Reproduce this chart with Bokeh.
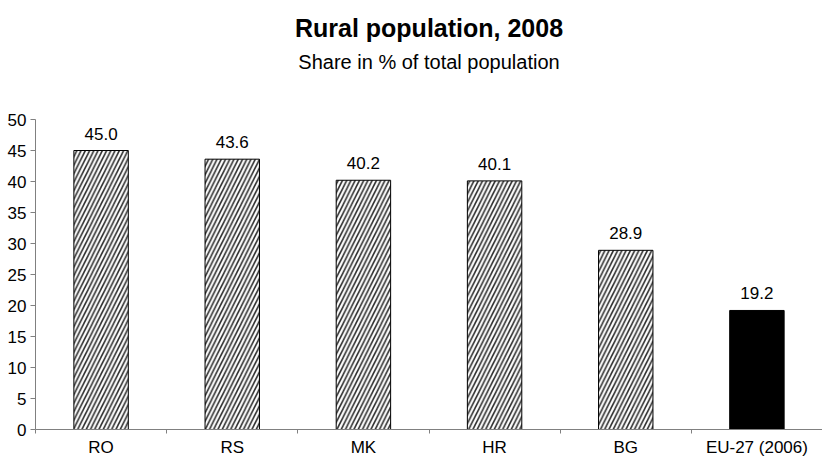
from bokeh.plotting import figure
from bokeh.models import Range1d, FixedTicker, Title, ColumnDataSource
from bokeh.embed import file_html
from bokeh.resources import INLINE

categories = ["RO", "RS", "MK", "HR", "BG", "EU-27 (2006)"]
values = [45.0, 43.6, 40.2, 40.1, 28.9, 19.2]
is_reference = [False, False, False, False, False, True]
y_ticks = [0, 5, 10, 15, 20, 25, 30, 35, 40, 45, 50]

FONT = "Liberation Sans"
AXIS_GREY = "#808080"

n = len(categories)
xs = [i + 0.5 for i in range(n)]
source = ColumnDataSource(dict(
    x=xs,
    top=values,
    label=["%.1f" % v for v in values],
    fill=["black" if r else "white" for r in is_reference],
    hatch=[" " if r else "/" for r in is_reference],
))

p = figure(width=822, height=459, x_range=Range1d(0, n), y_range=Range1d(0, 50),
           output_backend="svg", toolbar_location=None,
           min_border_left=35, min_border_right=0, min_border_bottom=0, min_border_top=0)
p.outline_line_color = None
p.xgrid.grid_line_color = None
p.ygrid.grid_line_color = None

p.vbar(x="x", top="top", width=0.415, source=source, fill_color="fill",
       line_color="black", line_width=1,
       hatch_pattern="hatch", hatch_color="#2e2e2e", hatch_scale=8.5, hatch_weight=1.6)

p.text(x="x", y="top", text="label", source=source, text_align="center",
       text_baseline="bottom", y_offset=-11, text_font_size="17px",
       text_font={"value": FONT}, text_color="black")

xa = p.xaxis[0]
xa.ticker = FixedTicker(ticks=xs, minor_ticks=list(range(n + 1)))
xa.major_label_overrides = {x: c for x, c in zip(xs, categories)}
xa.major_tick_in = 0
xa.major_tick_out = 0
xa.minor_tick_in = 0
xa.minor_tick_out = 4
xa.minor_tick_line_color = AXIS_GREY
xa.axis_line_color = AXIS_GREY
xa.major_label_standoff = 4
xa.axis_label = None
xa.axis_label_standoff = 0
xa.major_label_text_font = FONT
xa.major_label_text_font_size = "17px"
xa.major_label_text_color = "black"

ya = p.yaxis[0]
ya.ticker = FixedTicker(ticks=y_ticks, minor_ticks=[])
ya.major_tick_in = 0
ya.major_tick_out = 5
ya.major_tick_line_color = AXIS_GREY
ya.axis_line_color = AXIS_GREY
ya.major_label_standoff = 4
ya.major_label_text_font = FONT
ya.major_label_text_font_size = "17px"
ya.major_label_text_color = "black"

# stacked panels above the plot: spacer, subtitle, title, spacer
p.add_layout(Title(text=" ", text_font_size="1px", standoff=43), "above")
p.add_layout(Title(text="Share in % of total population", align="center",
                   text_font=FONT, text_font_size="20px", text_font_style="normal",
                   text_color="black", standoff=2), "above")
p.add_layout(Title(text="Rural population, 2008", align="center",
                   text_font=FONT, text_font_size="25px", text_font_style="bold",
                   text_color="black", standoff=12), "above")
p.add_layout(Title(text=" ", text_font_size="1px", standoff=2), "above")

open("out.html", "w").write(file_html(p, INLINE))
